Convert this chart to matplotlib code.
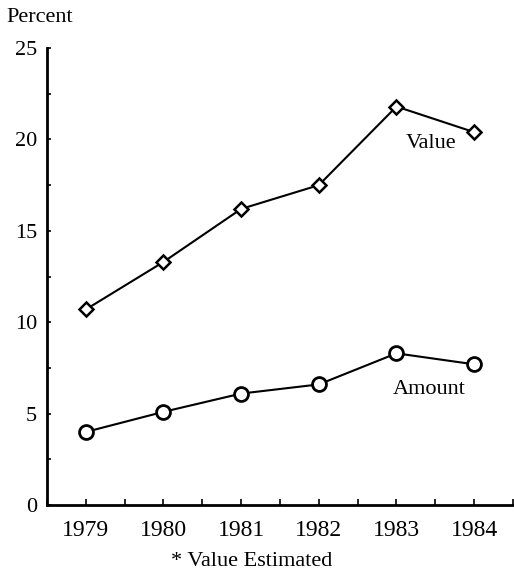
import matplotlib
matplotlib.use('Agg')
import matplotlib.pyplot as plt
from matplotlib.ticker import MultipleLocator

years = [1979, 1980, 1981, 1982, 1983, 1984]
value = [10.7, 13.3, 16.2, 17.5, 21.8, 20.4]
amount = [4.0, 5.1, 6.1, 6.6, 8.3, 7.7]

plt.rcParams['font.family'] = ['Liberation Serif', 'DejaVu Serif']

fig = plt.figure(figsize=(5.14, 5.72), dpi=100)
ax = fig.add_axes([0.0914, 0.117, 0.9066, 0.799])

ax.plot(years, value, color='black', lw=1.5, marker='D', ms=7,
        mfc='white', mec='black', mew=1.8)
ax.plot(years, amount, color='black', lw=1.5, marker='o', ms=10,
        mfc='white', mec='black', mew=2.0)

ax.set_xlim(1978.5, 1984.5)
ax.set_ylim(0, 25)
ax.set_xticks(years)
ax.xaxis.set_minor_locator(MultipleLocator(0.5))
ax.yaxis.set_major_locator(MultipleLocator(5))
ax.yaxis.set_minor_locator(MultipleLocator(2.5))

for s in ['top', 'right']:
    ax.spines[s].set_visible(False)
for s in ['left', 'bottom']:
    ax.spines[s].set_linewidth(2.0)

ax.tick_params(axis='x', which='both', direction='in', length=4, width=1.2,
               labelsize=17, pad=11)
ax.tick_params(axis='y', which='both', direction='in', length=3, width=1.2,
               labelsize=16, pad=7)

ax.text(1983.45, 19.8, 'Value', fontsize=16, ha='center', va='center')
ax.text(1983.42, 6.3, 'Amount', fontsize=16, ha='center', va='center')

fig.text(0.012, 0.970, 'Percent', fontsize=16, ha='left', va='center')
fig.text(0.49, 0.019, '* Value Estimated', fontsize=16, ha='center', va='center')

fig.savefig('out.png', dpi=100)
